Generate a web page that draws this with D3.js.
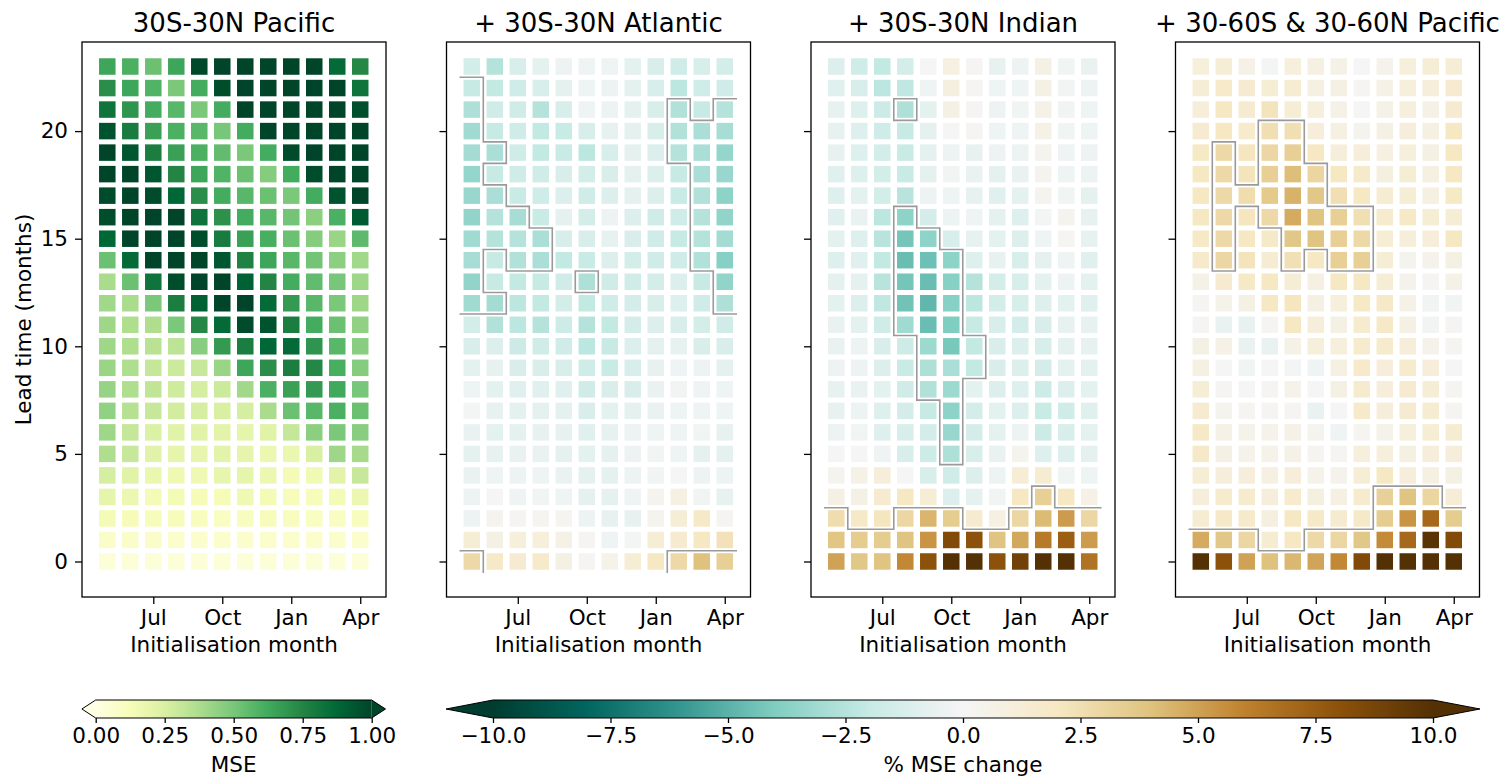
<!DOCTYPE html>
<html>
<head>
<meta charset="utf-8">
<script src="https://cdn.jsdelivr.net/npm/d3@7"></script>
<style>
  body { margin: 0; background: #fff; }
  text { font-family: "DejaVu Sans", sans-serif; fill: #000; }
</style>
</head>
<body>
<svg id="fig" width="1507" height="777"></svg>
<script>
// initialisation months (columns) and lead times (rows)
const months = ['May','Jun','Jul','Aug','Sep','Oct','Nov','Dec','Jan','Feb','Mar','Apr'];
const xTickMonths = ['Jul','Oct','Jan','Apr'];
const yTicks = [0, 5, 10, 15, 20];
const titles = ['30S-30N Pacific', '+ 30S-30N Atlantic', '+ 30S-30N Indian', '+ 30-60S & 30-60N Pacific'];
const mseTicks = [0, 0.25, 0.5, 0.75, 1];
const changeTicks = [-10, -7.5, -5, -2.5, 0, 2.5, 5, 7.5, 10];

// rows: lead 0..23, columns: May..Apr
const msePacific = [
  [0.04,0.04,0.04,0.04,0.04,0.04,0.04,0.04,0.04,0.04,0.04,0.04],
  [0.08,0.08,0.08,0.07,0.07,0.07,0.07,0.07,0.07,0.07,0.07,0.07],
  [0.14,0.13,0.12,0.12,0.11,0.1,0.11,0.12,0.11,0.1,0.1,0.11],
  [0.2,0.17,0.14,0.14,0.13,0.13,0.16,0.14,0.12,0.12,0.14,0.17],
  [0.26,0.22,0.18,0.16,0.16,0.19,0.2,0.17,0.14,0.15,0.21,0.3],
  [0.37,0.3,0.22,0.2,0.19,0.21,0.2,0.17,0.18,0.25,0.41,0.39],
  [0.41,0.31,0.24,0.22,0.22,0.21,0.2,0.22,0.31,0.45,0.49,0.46],
  [0.44,0.35,0.3,0.27,0.26,0.25,0.26,0.38,0.53,0.57,0.6,0.53],
  [0.43,0.37,0.32,0.28,0.26,0.29,0.4,0.6,0.66,0.68,0.63,0.5],
  [0.42,0.37,0.31,0.29,0.3,0.42,0.64,0.72,0.78,0.74,0.61,0.47],
  [0.41,0.37,0.34,0.33,0.46,0.68,0.78,0.875,0.86,0.7,0.57,0.46],
  [0.41,0.37,0.37,0.49,0.74,0.86,0.98,0.95,0.78,0.62,0.53,0.44],
  [0.4,0.38,0.49,0.78,0.9,1.0,1.0,0.86,0.68,0.57,0.49,0.41],
  [0.38,0.53,0.82,0.97,1.0,1.0,0.9,0.75,0.62,0.55,0.5,0.41],
  [0.53,0.86,1.0,1.0,1.0,0.94,0.76,0.64,0.57,0.51,0.45,0.4],
  [0.875,1.0,1.0,1.0,0.97,0.79,0.66,0.61,0.53,0.47,0.42,0.56],
  [0.97,1.0,1.0,1.0,0.82,0.71,0.62,0.57,0.51,0.45,0.6,0.92],
  [0.98,1.0,0.98,0.88,0.72,0.62,0.57,0.53,0.49,0.62,0.95,1.0],
  [1.0,1.0,0.94,0.75,0.64,0.59,0.53,0.47,0.62,0.97,1.0,1.0],
  [1.0,0.94,0.78,0.66,0.6,0.55,0.49,0.62,0.98,1.0,1.0,1.0],
  [0.95,0.79,0.66,0.6,0.57,0.5,0.62,1.0,1.0,1.0,1.0,1.0],
  [0.82,0.7,0.62,0.57,0.49,0.62,1.0,1.0,1.0,1.0,1.0,0.96],
  [0.72,0.64,0.59,0.49,0.62,0.97,1.0,1.0,1.0,1.0,1.0,0.82],
  [0.64,0.6,0.53,0.64,0.99,1.0,1.0,1.0,1.0,1.0,0.86,0.74]
];

const changeAtlantic = [
  [2.8,1.8,1.5,1.7,0.7,0.1,0.5,1.3,2.0,2.8,4.0,3.3],
  [1.3,0.7,1.0,1.0,0.6,0.1,-0.3,-0.1,1.3,1.5,2.0,2.3],
  [-0.4,0.3,0.2,0.2,0.2,-0.4,-0.6,-0.6,0.3,1.2,1.8,0.2],
  [-0.4,0.0,-0.3,-0.2,-0.3,-0.7,-0.7,-0.3,0.3,0.8,-0.2,-0.6],
  [-0.5,-0.3,-0.4,-0.3,-0.5,-0.7,-0.7,-0.4,-0.2,0.0,-0.4,-0.4],
  [-0.7,-0.6,-0.5,-0.5,-0.7,-0.8,-0.7,-0.4,-0.2,-0.3,-0.7,-0.7],
  [-0.5,-0.8,-0.7,-0.6,-0.6,-0.9,-0.6,-0.4,-0.3,-0.3,-0.2,-0.6],
  [-0.1,-0.6,-0.7,-0.7,-0.7,-1.2,-0.8,-0.7,-0.5,-0.3,-0.3,-0.3],
  [-0.3,-0.8,-0.9,-0.9,-0.9,-1.6,-1.2,-1.2,-0.5,-0.2,-0.3,-0.3],
  [-0.8,-0.6,-1.2,-1.2,-1.3,-1.6,-1.9,-1.3,-0.6,-0.3,-0.4,-0.7],
  [-1.2,-1.1,-1.8,-1.6,-1.6,-2.3,-2.0,-1.1,-0.7,-0.6,-1.2,-1.2],
  [-1.5,-2.6,-2.3,-2.5,-1.7,-2.5,-2.1,-1.4,-1.1,-1.2,-1.5,-1.6],
  [-3.1,-3.0,-2.3,-2.1,-1.5,-2.1,-1.6,-1.4,-1.3,-1.0,-1.6,-2.7],
  [-3.5,-2.0,-2.1,-2.0,-1.6,-2.7,-1.6,-1.6,-1.5,-1.1,-2.0,-3.5],
  [-2.9,-2.0,-2.6,-2.8,-2.1,-1.9,-1.1,-1.5,-1.6,-1.6,-2.6,-3.8],
  [-3.1,-2.5,-2.5,-2.8,-1.3,-1.3,-0.6,-1.2,-1.6,-2.0,-2.5,-3.0],
  [-3.5,-2.5,-2.9,-1.9,-0.7,-1.5,-0.4,-1.1,-1.6,-1.6,-2.5,-3.5],
  [-3.3,-2.8,-1.9,-1.6,-1.1,-1.6,-1.1,-0.7,-1.1,-1.9,-2.6,-3.6],
  [-3.4,-2.0,-1.6,-1.6,-1.2,-1.5,-1.2,-0.7,-1.1,-2.0,-2.8,-3.3],
  [-3.0,-2.8,-1.6,-2.1,-1.9,-2.3,-1.3,-0.7,-1.1,-2.5,-2.8,-3.4],
  [-3.1,-2.0,-1.6,-2.1,-1.9,-1.3,-0.6,-0.7,-1.3,-2.6,-2.8,-2.9],
  [-2.7,-1.6,-1.6,-2.5,-1.3,-0.3,-0.4,-0.7,-1.3,-2.6,-2.0,-2.5],
  [-2.0,-2.1,-1.6,-1.3,-0.7,-0.3,-0.4,-0.7,-1.3,-2.3,-1.6,-1.6],
  [-1.5,-2.5,-1.3,-0.7,-0.4,-0.3,-0.3,-0.8,-1.3,-1.6,-1.3,-1.5]
];

const changeIndian = [
  [5.0,3.7,3.9,5.8,8.0,10,10,8.0,9.0,10,10,6.6],
  [3.8,3.5,3.5,3.9,5.4,8.4,8.0,3.9,4.8,6.3,7.4,5.2],
  [2.6,1.8,2.1,2.9,4.4,3.5,1.5,0.8,2.9,4.2,5.2,2.9],
  [0.7,0.7,1.5,2.0,1.3,-1.1,-0.7,-0.2,2.0,3.3,2.0,0.6],
  [0.3,0.6,1.1,0.0,-1.3,-1.6,-1.1,-0.4,1.2,1.4,-0.2,-0.3],
  [0.0,0.0,-0.3,-1.3,-1.7,-2.7,-1.3,-0.5,0.3,-1.0,-1.0,-0.7],
  [-0.4,-0.2,-1.0,-1.3,-1.4,-3.3,-1.4,-0.8,-0.4,-1.8,-1.3,-0.8],
  [-0.6,-0.4,-1.0,-1.4,-2.0,-3.6,-1.4,-0.8,-1.1,-1.9,-1.6,-0.9],
  [-0.6,-0.5,-0.8,-1.6,-2.6,-3.2,-0.8,-1.1,-1.0,-1.7,-1.1,-0.8],
  [-0.4,-0.4,-1.1,-1.9,-2.7,-2.8,-2.1,-1.2,-1.1,-1.4,-0.8,-0.8],
  [-0.5,-0.4,-1.2,-1.7,-3.2,-4.2,-2.1,-1.2,-1.1,-1.3,-0.7,-0.6],
  [-0.5,-0.8,-1.6,-3.1,-4.6,-4.0,-2.0,-1.3,-1.4,-1.2,-0.6,-0.6],
  [-0.8,-1.1,-2.2,-4.4,-4.8,-3.8,-2.3,-1.5,-1.3,-1.0,-0.8,-0.9],
  [-0.7,-0.7,-2.4,-4.3,-4.6,-3.8,-2.5,-1.5,-1.3,-0.8,-0.4,-0.8],
  [-1.0,-0.9,-2.1,-4.6,-4.5,-3.6,-1.0,-0.6,-1.3,-0.7,-0.3,-0.9],
  [-0.8,-1.0,-2.4,-4.3,-3.6,-1.3,-0.6,-0.8,-1.1,-0.3,0.2,-0.6],
  [-0.9,-0.5,-2.3,-3.6,-1.4,-0.4,-0.3,-0.7,-1.0,-0.1,0.3,-0.6],
  [-1.0,-0.8,-1.5,-2.4,-0.4,-0.3,-0.6,-0.9,-0.7,0.3,-0.2,-0.7],
  [-0.9,-1.0,-1.5,-1.9,-0.7,-0.2,-0.5,-0.7,-0.5,0.3,-0.3,-0.4],
  [-0.6,-1.0,-1.5,-1.9,-0.7,-0.4,-0.6,-0.4,-0.4,0.3,-0.3,-0.4],
  [-0.6,-1.0,-1.6,-2.0,-0.7,0.0,0.1,-0.3,-0.3,0.6,-0.2,-0.3],
  [-0.6,-1.0,-1.8,-2.7,-0.8,0.7,0.1,-0.4,-0.2,0.6,-0.2,-0.3],
  [-0.9,-1.3,-2.3,-2.2,-0.3,0.9,0.1,-0.3,-0.3,0.7,-0.2,-0.4],
  [-1.1,-1.6,-2.1,-1.4,0.0,0.8,0.1,-0.6,-0.4,0.7,-0.2,-0.5]
];

const changeMidLatPacific = [
  [10,8.0,5.0,4.0,4.3,4.9,5.8,8.4,10,10,10,10],
  [4.7,3.7,2.9,1.4,2.0,2.8,2.9,3.7,5.7,7.0,9.8,8.4],
  [1.4,1.8,1.7,0.9,2.0,1.8,1.5,1.8,3.5,5.4,7.0,3.5],
  [1.1,1.6,1.6,1.1,1.6,0.9,0.8,1.6,3.2,3.9,3.0,1.2],
  [1.3,1.1,1.1,0.8,1.1,0.5,0.4,1.3,2.0,1.1,0.8,0.7],
  [1.8,0.7,0.5,0.5,0.6,0.2,0.1,1.0,1.0,0.8,1.1,1.1],
  [1.8,0.6,0.5,0.4,0.6,0.3,-0.3,0.2,0.5,1.0,1.3,1.4],
  [1.5,0.3,0.2,0.1,0.1,-0.5,0.0,1.7,1.1,1.5,1.4,0.2],
  [1.3,0.1,0.0,0.2,0.5,0.0,0.7,1.6,1.1,1.5,1.3,0.2],
  [0.8,0.0,-0.2,0.0,-0.1,-0.3,0.8,1.7,1.1,1.6,1.1,0.0],
  [0.7,0.6,-0.5,-0.5,0.6,1.0,1.0,1.6,1.6,1.1,0.4,0.2],
  [0.1,-0.5,-0.6,0.2,2.0,1.1,0.7,1.6,1.8,0.7,-0.2,0.1],
  [0.1,0.5,0.7,2.0,2.1,0.7,1.0,1.9,1.8,0.6,-0.2,-0.2],
  [0.6,1.5,1.9,2.0,1.3,0.8,2.0,2.0,1.3,0.4,0.1,0.6],
  [1.7,2.9,2.2,1.4,2.4,2.0,3.3,3.3,1.3,0.3,0.4,0.7],
  [1.9,2.8,2.0,1.8,3.7,3.9,3.3,2.8,1.3,1.1,1.1,2.0],
  [2.0,2.8,2.1,2.8,4.7,3.9,3.3,2.5,1.6,1.9,1.3,1.2],
  [2.0,2.8,2.6,3.6,4.5,3.7,2.5,2.0,1.4,1.3,0.8,1.9],
  [2.0,2.8,2.2,3.3,4.1,3.0,2.0,1.7,0.9,1.3,0.8,2.0],
  [1.9,2.8,2.1,2.9,3.3,2.0,1.1,1.1,0.8,1.0,0.7,2.0],
  [1.5,2.0,1.6,2.5,2.5,1.1,0.8,0.3,0.7,1.1,0.8,2.0],
  [1.1,2.0,1.5,2.2,1.3,1.0,0.6,0.0,0.6,1.0,0.6,1.5],
  [1.2,1.7,1.5,1.3,1.4,0.8,0.7,0.1,0.6,1.0,1.1,1.5],
  [1.0,1.2,0.6,-0.1,1.0,0.8,0.6,0.0,0.4,1.0,1.2,1.2]
];

// significance masks, rows lead 0..23, one char per month
const sigAtlantic = [
  '100000000111','000000000000','000000000000','000000000000','000000000000','000000000000',
  '000000000000','000000000000','000000000000','000000000000','000000000000','000000000000',
  '110000000001','100001000001','101100000011','111100000011','111000000011','110000000011',
  '100000000011','110000000111','100000000111','100000000101','100000000000','000000000000'
];
const sigIndian = [
  '111111111111','111111111111','100111001111','000000000100','000000000000','000001000000',
  '000001000000','000001000000','000011000000','000011100000','000011100000','000111000000',
  '000111000000','000111000000','000111000000','000110000000','000100000000','000000000000',
  '000000000000','000000000000','000000000000','000100000000','000000000000','000000000000'
];
const sigMidLatPacific = [
  '111111111111','111001111111','000000001111','000000001110','000000000000','000000000000',
  '000000000000','000000000000','000000000000','000000000000','000000000000','000000000000',
  '000000000000','000000000000','010010110000','010011110000','010111110000','011111000000',
  '010111000000','010110000000','000110000000','000000000000','000000000000','000000000000'
];

// matplotlib YlGn and BrBG_r, linearly segmented
const ylgn = ['#ffffe5','#f7fcb9','#d9f0a3','#addd8e','#78c679','#41ab5d','#238443','#006837','#004529'];
const brbgR = ['#003c30','#01665e','#35978f','#80cdc1','#c7eae5','#f5f5f5','#f6e8c3','#dfc27d','#bf812d','#8c510a','#543005'];
const mseColor = d3.scaleLinear().domain(d3.range(9).map(i => i / 8)).range(ylgn).clamp(true);
const chgColor = d3.scaleLinear().domain(d3.range(11).map(i => -10 + 2 * i)).range(brbgR).clamp(true);

const svg = d3.select('#fig');
const panelLefts = [82, 446.5, 811, 1175.5];
const plotTop = 42, plotW = 304, plotH = 555;
const cell = 16.5;
const fontSize = 21.5;

const x = d3.scaleLinear().domain([-1.1, 12.12]).range([0, plotW]);
const y = d3.scaleLinear().domain([-1.65, 24.14]).range([plotH, 0]);

const panels = [
  {values: msePacific, color: mseColor, sig: null},
  {values: changeAtlantic, color: chgColor, sig: sigAtlantic},
  {values: changeIndian, color: chgColor, sig: sigIndian},
  {values: changeMidLatPacific, color: chgColor, sig: sigMidLatPacific}
];

panels.forEach((p, i) => {
  const g = svg.append('g').attr('transform', `translate(${panelLefts[i]},${plotTop})`);

  const cells = [];
  p.values.forEach((row, lead) => row.forEach((v, m) => cells.push({lead, m, v})));

  g.selectAll('rect.cell').data(cells).join('rect')
    .attr('class', 'cell')
    .attr('x', d => x(d.m) - cell / 2)
    .attr('y', d => y(d.lead) - cell / 2)
    .attr('width', cell)
    .attr('height', cell)
    .attr('fill', d => p.color(d.v));

  // outline of significant cells: edges between cells of different mask value
  if (p.sig) {
    const s = p.sig.map(r => r.split('').map(Number));
    let path = '';
    for (let l = 0; l < 24; l++) {
      for (let c = 0; c < 12; c++) {
        if (c < 11 && s[l][c] !== s[l][c + 1]) {
          path += `M${x(c + 0.5)},${y(l - 0.5)}L${x(c + 0.5)},${y(l + 0.5)}`;
        }
        if (l < 23 && s[l][c] !== s[l + 1][c]) {
          path += `M${x(c - 0.5)},${y(l + 0.5)}L${x(c + 0.5)},${y(l + 0.5)}`;
        }
      }
    }
    g.append('path').attr('d', path)
      .attr('fill', 'none').attr('stroke', '#9a9a9a')
      .attr('stroke-width', 1.6).attr('stroke-linecap', 'square');
  }

  const xAxis = d3.axisBottom(x)
    .tickValues(xTickMonths.map(mo => months.indexOf(mo)))
    .tickFormat(v => months[v])
    .tickSize(7).tickPadding(6);
  const yAxis = d3.axisLeft(y)
    .tickValues(yTicks)
    .tickFormat(i === 0 ? d3.format('d') : () => '')
    .tickSize(7).tickPadding(7);

  const gx = g.append('g').attr('transform', `translate(0,${plotH})`).call(xAxis);
  const gy = g.append('g').call(yAxis);
  [gx, gy].forEach(a => {
    a.select('.domain').remove();
    a.selectAll('line').attr('stroke', '#000').attr('stroke-width', 1.3);
    a.selectAll('text').attr('font-size', fontSize).attr('font-family', '"DejaVu Sans", sans-serif');
  });

  g.append('rect').attr('width', plotW).attr('height', plotH)
    .attr('fill', 'none').attr('stroke', '#000').attr('stroke-width', 1.3);

  g.append('text').attr('x', plotW / 2).attr('y', 32.3 - plotTop)
    .attr('text-anchor', 'middle').attr('font-size', 26).text(titles[i]);

  g.append('text').attr('x', plotW / 2).attr('y', 651.5 - plotTop)
    .attr('text-anchor', 'middle').attr('font-size', fontSize).text('Initialisation month');

  if (i === 0) {
    g.append('text')
      .attr('transform', `translate(${31 - panelLefts[0]},${plotH / 2}) rotate(-90)`)
      .attr('text-anchor', 'middle').attr('font-size', fontSize).text('Lead time (months)');
  }
});

// colour bars with extend arrows at both ends
const defs = svg.append('defs');
function colorbar(id, x0, x1, domain, color, ticks, fmt, label, under, over) {
  const cbTop = 700, cbH = 18, mid = cbTop + cbH / 2;
  const ext = (x1 - x0) * 0.05;
  const sc = d3.scaleLinear().domain(domain).range([x0, x1]);
  const grad = defs.append('linearGradient').attr('id', id)
    .attr('x1', '0%').attr('x2', '100%').attr('y1', '0%').attr('y2', '0%');
  d3.range(41).forEach(k => {
    const t = k / 40;
    grad.append('stop').attr('offset', `${t * 100}%`)
      .attr('stop-color', color(domain[0] + t * (domain[1] - domain[0])));
  });
  svg.append('path').attr('d', `M${x0},${cbTop}L${x0 - ext},${mid}L${x0},${cbTop + cbH}Z`).attr('fill', under);
  svg.append('path').attr('d', `M${x1},${cbTop}L${x1 + ext},${mid}L${x1},${cbTop + cbH}Z`).attr('fill', over);
  svg.append('rect').attr('x', x0).attr('y', cbTop).attr('width', x1 - x0).attr('height', cbH)
    .attr('fill', `url(#${id})`);
  svg.append('path')
    .attr('d', `M${x0},${cbTop}L${x1},${cbTop}L${x1 + ext},${mid}L${x1},${cbTop + cbH}L${x0},${cbTop + cbH}L${x0 - ext},${mid}Z`)
    .attr('fill', 'none').attr('stroke', '#000').attr('stroke-width', 1);

  const ax = svg.append('g').attr('transform', `translate(0,${cbTop + cbH})`)
    .call(d3.axisBottom(sc).tickValues(ticks).tickFormat(fmt).tickSize(5).tickPadding(5));
  ax.select('.domain').remove();
  ax.selectAll('line').attr('stroke', '#000').attr('stroke-width', 1.3);
  ax.selectAll('text').attr('font-size', fontSize).attr('font-family', '"DejaVu Sans", sans-serif');

  svg.append('text').attr('x', (x0 + x1) / 2).attr('y', 772)
    .attr('text-anchor', 'middle').attr('font-size', fontSize).text(label);
}

colorbar('gradMse', 95.7, 371.7, [0, 1], mseColor, mseTicks, d3.format('.2f'), 'MSE', ylgn[0], ylgn[8]);
colorbar('gradChg', 493, 1433, [-10, 10], chgColor, changeTicks, d3.format('.1f'), '% MSE change', brbgR[0], brbgR[10]);
</script>
</body>
</html>
